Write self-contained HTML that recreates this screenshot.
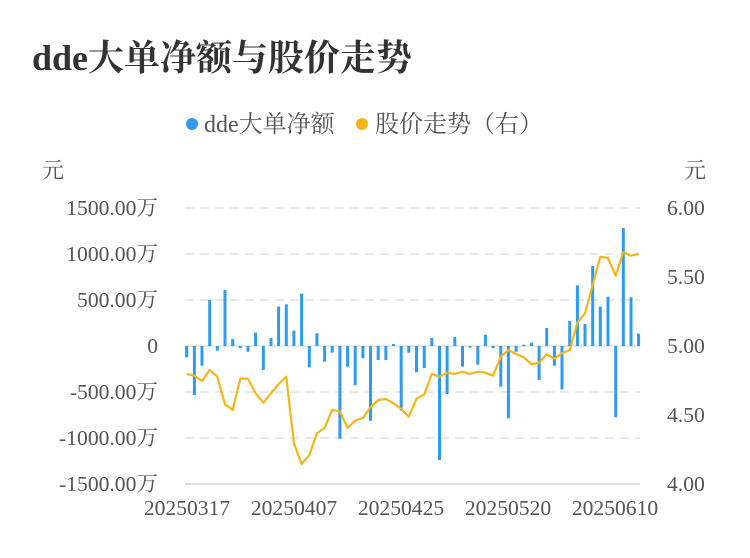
<!DOCTYPE html>
<html><head><meta charset="utf-8"><style>
body{margin:0;background:#fff;}
svg{display:block;font-family:"Liberation Serif","Noto Serif CJK SC","Noto Sans CJK SC",serif;}
</style></head><body>
<svg id="sv" width="750" height="558" viewBox="0 0 750 558">
<text x="32" y="70" font-size="36" font-weight="bold" fill="#333">dde大单净额与股价走势</text>
<circle cx="192" cy="124" r="6" fill="#2e9bef"/>
<text x="204" y="132" font-size="24" fill="#555">dde大单净额</text>
<circle cx="362" cy="124" r="6" fill="#f5b51a"/>
<text x="375" y="132" font-size="24" fill="#555">股价走势（右）</text>
<text x="42" y="178" font-size="22" fill="#555">元</text>
<text x="684" y="178" font-size="22" fill="#555">元</text>
<g stroke="#e8e8e8" stroke-width="2" stroke-dasharray="9,6">
<line x1="185" x2="640" y1="208" y2="208"/><line x1="185" x2="640" y1="254" y2="254"/>
<line x1="185" x2="640" y1="300" y2="300"/><line x1="185" x2="640" y1="392" y2="392"/>
<line x1="185" x2="640" y1="438" y2="438"/>
</g>
<line x1="185" x2="640" y1="346" y2="346" stroke="#e8e8e8" stroke-width="2"/>
<line x1="185" x2="640" y1="484" y2="484" stroke="#e0e0e0" stroke-width="2"/>
<g font-size="21.6" fill="#555" text-anchor="end">
<text x="158" y="215">1500.00万</text><text x="158" y="261">1000.00万</text>
<text x="158" y="307">500.00万</text><text x="158" y="353">0</text>
<text x="158" y="399">-500.00万</text><text x="158" y="445">-1000.00万</text>
<text x="158" y="491">-1500.00万</text>
</g>
<g font-size="21.6" fill="#555">
<text x="667" y="215">6.00</text><text x="667" y="284">5.50</text>
<text x="667" y="353">5.00</text><text x="667" y="422">4.50</text>
<text x="667" y="491">4.00</text>
</g>
<g font-size="21.6" fill="#555" text-anchor="middle">
<text x="187" y="515">20250317</text><text x="294" y="515">20250407</text>
<text x="401" y="515">20250425</text><text x="508" y="515">20250520</text>
<text x="615" y="515">20250610</text>
</g>
<g id="bars" fill="#2e9bef"></g>
<polyline id="ln" fill="none" stroke="#f5b51a" stroke-width="2.2" stroke-linejoin="round"/>
<script>
var b=[357.3,395,365.7,300,350.7,290,339,348,351.7,332.7,370,338,306.7,304.3,330.7,293.7,367.3,333.3,361.7,352.7,438.7,366.7,385.3,358.3,420.7,360,360,344,410.7,352.7,372.3,368,338,460,394,337,366.7,347.7,364.7,334.7,348.3,386.7,418.3,351.7,344.7,342.7,380,328,365.7,389.3,321,285.3,324,266,306.7,296.7,417.3,228,297.3,333.7];
var l=[374,375.7,381,370,376.7,404.3,410,378.7,378.7,393.3,402.7,393.3,384,376.7,443.3,464,455.3,433.3,428,410,411.3,428,420.7,418,407.3,400,399,403.3,409,416.7,398.7,394.7,374,376.7,372.7,374,371.7,374,371.7,372.7,375.7,356.7,350,354,357.3,364.3,362.7,354.3,358.7,353.3,350,322.7,313.3,285,256.7,258,275.7,252.3,255.7,254];
var NS='http://www.w3.org/2000/svg';
var g=document.getElementById('bars'),p=[];
for(var i=0;i<60;i++){var x=186.7+7.66*i;var y=b[i];var t=Math.min(y,346),h=Math.max(Math.abs(y-346),1.5);
var r=document.createElementNS(NS,'rect');
r.setAttribute('x',(x-1.5).toFixed(1));r.setAttribute('y',t.toFixed(1));
r.setAttribute('width','3');r.setAttribute('height',h.toFixed(1));
g.appendChild(r);p.push(x.toFixed(1)+','+l[i]);}
document.getElementById('ln').setAttribute('points',p.join(' '));
</script>
</svg>
</body></html>
